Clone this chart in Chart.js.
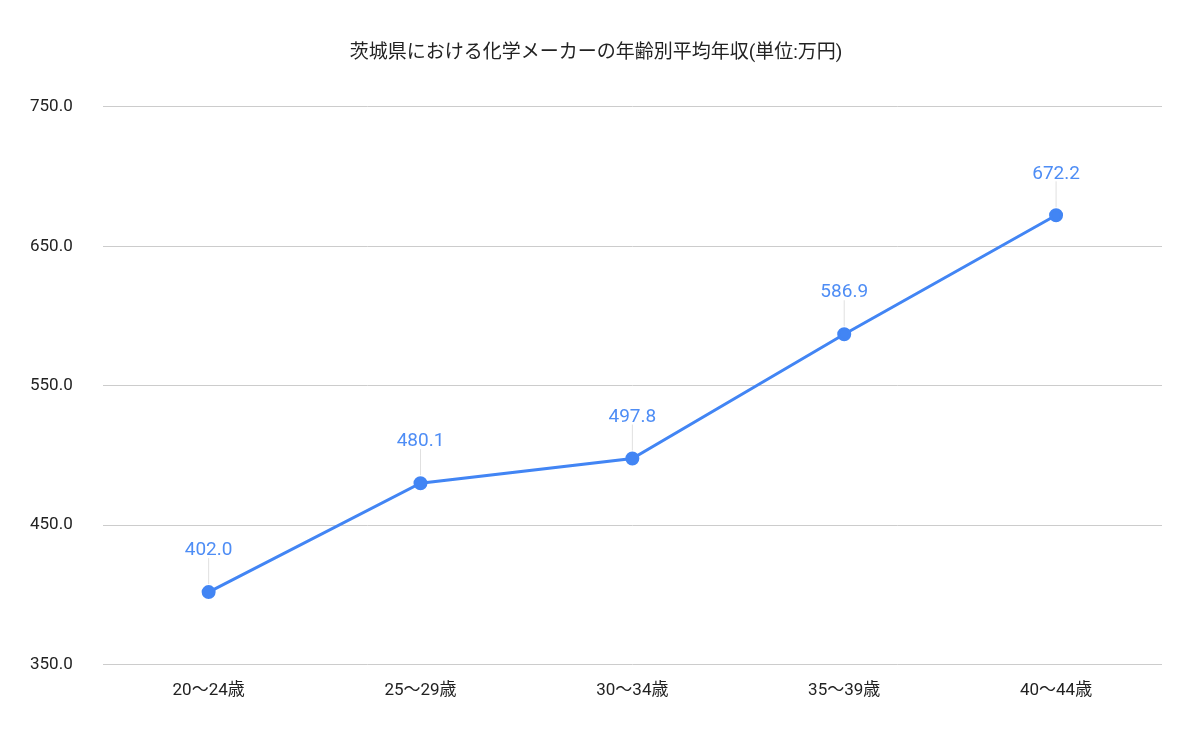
<!DOCTYPE html>
<html>
<head>
<meta charset="utf-8">
<script src="https://cdn.jsdelivr.net/npm/chart.js@4"></script>
<style>
  html, body { margin: 0; padding: 0; background: #fff; }
  #wrap { width: 1200px; height: 742px; }
</style>
</head>
<body>
<div id="wrap"><canvas id="myChart" width="1200" height="742"></canvas></div>
<script>
const categories = ['20～24歳', '25～29歳', '30～34歳', '35～39歳', '40～44歳'];
const incomes = [402.0, 480.1, 497.8, 586.9, 672.2];
const yTicks = [350, 450, 550, 650, 750];

const fontFamily = "Roboto, 'Noto Sans CJK JP', sans-serif";

// labels above each point with a faint leader line
const pointLabels = {
  id: 'pointLabels',
  afterDatasetsDraw(chart) {
    const ctx = chart.ctx;
    const meta = chart.getDatasetMeta(0);
    ctx.save();
    meta.data.forEach((pt, i) => {
      ctx.strokeStyle = '#e0e0e0';
      ctx.lineWidth = 1;
      ctx.beginPath();
      ctx.moveTo(pt.x, pt.y - 8);
      ctx.lineTo(pt.x, pt.y - 34);
      ctx.stroke();
      ctx.fillStyle = '#4e8df5';
      ctx.font = '19px ' + fontFamily;
      ctx.textAlign = 'center';
      ctx.textBaseline = 'bottom';
      ctx.fillText(incomes[i].toFixed(1), pt.x, pt.y - 32);
    });
    ctx.restore();
  }
};

const config = {
  type: 'line',
  data: {
    labels: categories,
    datasets: [{
      data: incomes,
      borderColor: '#4285f4',
      backgroundColor: '#4285f4',
      borderWidth: 3,
      pointRadius: 5.5,
      pointHoverRadius: 5.5,
      tension: 0
    }]
  },
  options: {
    responsive: false,
    animation: false,
    layout: { padding: { left: 30, right: 38, top: 10, bottom: 33 } },
    plugins: {
      legend: { display: false },
      tooltip: { enabled: false },
      title: {
        display: true,
        text: '茨城県における化学メーカーの年齢別平均年収(単位:万円)',
        color: '#222',
        font: { family: fontFamily, size: 19, weight: 'normal' },
        padding: { top: 32, bottom: 42 }
      }
    },
    scales: {
      x: {
        offset: true,
        grid: { display: false },
        border: { display: false },
        ticks: { color: '#222', font: { family: fontFamily, size: 17 }, padding: 8 }
      },
      y: {
        min: 350,
        max: 750,
        afterBuildTicks(axis) { axis.ticks = yTicks.map(v => ({ value: v })); },
        grid: { color: '#cccccc', drawTicks: false },
        border: { display: false },
        ticks: {
          color: '#222',
          font: { family: fontFamily, size: 17 },
          crossAlign: 'far',
          padding: 15,
          callback: v => v.toFixed(1)
        }
      }
    }
  },
  plugins: [pointLabels]
};

new Chart(document.getElementById('myChart'), config);
</script>
</body>
</html>
